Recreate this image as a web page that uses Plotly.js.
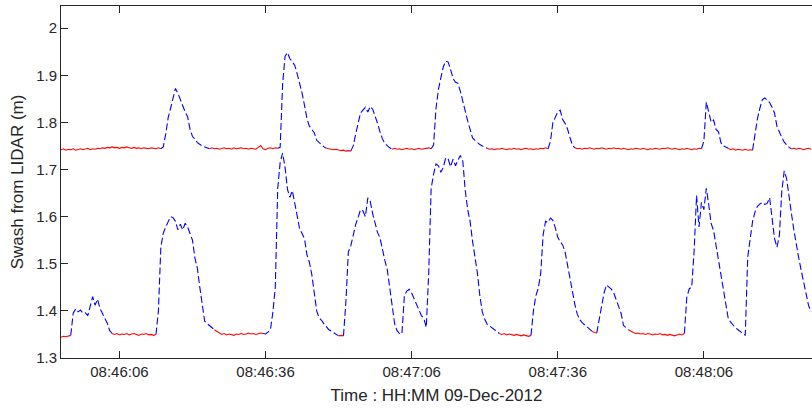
<!DOCTYPE html>
<html>
<head>
<meta charset="utf-8">
<script src="https://cdn.plot.ly/plotly-3.0.1.min.js"></script>
<style>html,body{margin:0;padding:0;background:#fff;}#chart{width:812px;height:409px;}</style>
</head>
<body>
<div id="chart"></div>
<script>
// Sampling clock of the record: first sample and step (seconds)
const recordDate = '2012-12-09';
const firstSample = '08:45:54';
const sampleStepSec = 0.5;

// Upper LIDAR swash series (m), one value per sample
const upperSwash = [
1.742,1.744,1.741,1.743,1.742,1.744,1.741,1.743,1.744,1.742,
1.743,1.745,1.742,1.744,1.743,1.745,1.744,1.746,1.745,1.747,
1.746,1.748,1.746,1.747,1.745,1.747,1.746,1.748,1.746,1.745,
1.747,1.745,1.746,1.744,1.746,1.745,1.744,1.746,1.745,1.744,
1.746,1.744,1.748,1.775,1.810,1.830,1.853,1.872,1.862,1.848,
1.835,1.822,1.812,1.785,1.770,1.765,1.757,1.753,1.750,1.748,
1.746,1.744,1.746,1.744,1.745,1.743,1.745,1.746,1.744,1.745,
1.743,1.746,1.744,1.745,1.746,1.744,1.745,1.743,1.745,1.744,
1.743,1.747,1.751,1.744,1.742,1.745,1.746,1.744,1.746,1.745,
1.747,1.880,1.940,1.948,1.935,1.929,1.921,1.903,1.884,1.862,
1.836,1.808,1.792,1.786,1.778,1.762,1.757,1.751,1.748,1.745,
1.744,1.743,1.742,1.743,1.741,1.740,1.741,1.739,1.740,1.739,
1.750,1.775,1.800,1.820,1.826,1.832,1.822,1.834,1.828,1.815,
1.798,1.780,1.765,1.755,1.750,1.746,1.743,1.745,1.743,1.744,
1.742,1.744,1.745,1.743,1.744,1.742,1.744,1.745,1.743,1.744,
1.745,1.746,1.744,1.752,1.830,1.870,1.895,1.918,1.930,1.928,
1.912,1.893,1.885,1.883,1.866,1.845,1.819,1.803,1.785,1.767,
1.762,1.757,1.753,1.750,1.748,1.745,1.743,1.744,1.742,1.744,
1.743,1.745,1.744,1.742,1.744,1.743,1.745,1.743,1.744,1.742,
1.744,1.745,1.743,1.744,1.742,1.744,1.743,1.745,1.744,1.746,
1.744,1.760,1.800,1.811,1.822,1.826,1.806,1.798,1.786,1.768,
1.752,1.746,1.744,1.745,1.743,1.745,1.744,1.746,1.744,1.743,
1.745,1.744,1.746,1.745,1.743,1.745,1.744,1.746,1.744,1.745,
1.743,1.745,1.744,1.742,1.744,1.743,1.745,1.744,1.743,1.745,
1.744,1.742,1.744,1.743,1.745,1.744,1.743,1.745,1.744,1.746,
1.744,1.743,1.745,1.744,1.742,1.744,1.743,1.745,1.743,1.742,
1.744,1.743,1.745,1.744,1.760,1.843,1.822,1.800,1.805,1.785,
1.780,1.757,1.750,1.748,1.745,1.742,1.744,1.741,1.743,1.742,
1.741,1.743,1.741,1.742,1.741,1.775,1.808,1.830,1.848,1.852,
1.846,1.842,1.832,1.820,1.792,1.779,1.768,1.758,1.752,1.747,
1.744,1.745,1.743,1.745,1.744,1.742,1.744,1.745,1.743
];

// Lower LIDAR swash series (m), one value per sample
const lowerSwash = [
1.344,1.346,1.345,1.347,1.348,1.395,1.404,1.398,1.402,1.395,
1.396,1.390,1.410,1.430,1.412,1.425,1.405,1.395,1.385,1.374,
1.358,1.352,1.350,1.352,1.349,1.351,1.350,1.352,1.349,1.351,
1.352,1.350,1.348,1.351,1.350,1.352,1.349,1.350,1.348,1.350,
1.400,1.535,1.565,1.578,1.590,1.600,1.598,1.590,1.572,1.584,
1.572,1.586,1.578,1.562,1.550,1.512,1.490,1.450,1.410,1.378,
1.373,1.369,1.363,1.360,1.356,1.353,1.350,1.352,1.349,1.351,
1.350,1.348,1.351,1.350,1.352,1.350,1.351,1.353,1.351,1.352,
1.350,1.352,1.353,1.352,1.351,1.355,1.360,1.397,1.450,1.660,
1.715,1.735,1.705,1.658,1.641,1.655,1.628,1.609,1.574,1.564,
1.553,1.519,1.503,1.477,1.440,1.400,1.385,1.380,1.372,1.365,
1.360,1.357,1.354,1.350,1.347,1.348,1.347,1.420,1.525,1.538,
1.560,1.583,1.598,1.615,1.612,1.600,1.640,1.632,1.606,1.585,
1.566,1.555,1.528,1.507,1.487,1.445,1.405,1.373,1.358,1.352,
1.351,1.432,1.442,1.446,1.438,1.426,1.415,1.400,1.390,1.384,
1.365,1.480,1.660,1.690,1.712,1.708,1.694,1.705,1.725,1.722,
1.706,1.722,1.708,1.720,1.730,1.718,1.656,1.615,1.590,1.548,
1.517,1.480,1.432,1.398,1.382,1.372,1.368,1.363,1.360,1.357,
1.352,1.350,1.352,1.349,1.351,1.350,1.348,1.350,1.349,1.347,
1.349,1.348,1.346,1.348,1.400,1.432,1.448,1.480,1.562,1.590,
1.588,1.597,1.592,1.576,1.556,1.547,1.540,1.525,1.496,1.472,
1.440,1.414,1.393,1.382,1.375,1.370,1.365,1.361,1.357,1.354,
1.353,1.380,1.415,1.438,1.455,1.450,1.446,1.438,1.425,1.408,
1.395,1.369,1.364,1.360,1.356,1.354,1.352,1.353,1.351,1.352,
1.350,1.352,1.351,1.349,1.351,1.350,1.352,1.349,1.350,1.348,
1.350,1.349,1.347,1.349,1.351,1.349,1.352,1.429,1.447,1.450,
1.528,1.645,1.578,1.630,1.615,1.660,1.625,1.585,1.570,1.538,
1.510,1.472,1.440,1.408,1.384,1.376,1.369,1.364,1.360,1.356,
1.351,1.348,1.514,1.556,1.590,1.610,1.622,1.627,1.630,1.626,
1.628,1.640,1.597,1.554,1.535,1.560,1.654,1.697,1.680,1.638,
1.605,1.570,1.538,1.511,1.485,1.459,1.435,1.411,1.398
];

// Still-water (no swash) intervals, drawn in red
const upperCalm = [
['08:45:54.0','08:46:14.5'],['08:46:24.5','08:46:38.5'],['08:46:48.5','08:46:53.5'],
['08:47:02.0','08:47:10.0'],['08:47:21.5','08:47:34.0'],['08:47:39.5','08:48:05.5'],
['08:48:11.0','08:48:16.0'],['08:48:24.0','08:48:28.0']
];
const lowerCalm = [
['08:45:54.0','08:45:56.0'],['08:46:04.5','08:46:13.5'],['08:46:25.5','08:46:35.5'],
['08:46:51.0','08:46:52.0'],['08:47:24.0','08:47:30.5'],['08:47:43.0','08:47:44.0'],
['08:47:50.5','08:48:02.0']
];

// Axes
const xRange = ['08:45:54.0', '08:48:28.2'];
const xTickTimes = ['08:46:06','08:46:36','08:47:06','08:47:36','08:48:06'];
const yTicks = [1.3,1.4,1.5,1.6,1.7,1.8,1.9,2.0];
const yTickLabels = ['1.3','1.4','1.5','1.6','1.7','1.8','1.9','2'];
const xTitle = 'Time : HH:MM 09-Dec-2012';
const yTitle = 'Swash from LIDAR (m)';

function secOfDay(s){const p=s.split(':');return (+p[0])*3600+(+p[1])*60+parseFloat(p[2]);}
const t0 = secOfDay(firstSample);
function inAny(sec, ints){return ints.some(iv=>sec>=secOfDay(iv[0])-1e-6 && sec<=secOfDay(iv[1])+1e-6);}
function split(vals, ints){
  const n=vals.length, red=[];
  for(let i=0;i<n;i++) red.push(inAny(t0+i*sampleStepSec, ints));
  const r=[], b=[];
  for(let i=0;i<n;i++){
    r.push(red[i]?vals[i]:null);
    const interior = red[i] && (i===0||red[i-1]) && (i===n-1||red[i+1]);
    b.push(interior?null:vals[i]);
  }
  return {red:r, blue:b};
}
const up = split(upperSwash, upperCalm);
const lo = split(lowerSwash, lowerCalm);
const x0 = recordDate+' '+firstSample;
const dx = sampleStepSec*1000;
const blueLine = {color:'#0000ff', width:1.1, dash:'7px,3px'};
const redLine = {color:'#ff0000', width:1.1};
const traces = [
  {type:'scatter', mode:'lines', x0:x0, dx:dx, y:up.blue, line:blueLine, hoverinfo:'skip'},
  {type:'scatter', mode:'lines', x0:x0, dx:dx, y:lo.blue, line:blueLine, hoverinfo:'skip'},
  {type:'scatter', mode:'lines', x0:x0, dx:dx, y:up.red, line:redLine, hoverinfo:'skip'},
  {type:'scatter', mode:'lines', x0:x0, dx:dx, y:lo.red, line:redLine, hoverinfo:'skip'}
];
const axCol = '#262626';
const layout = {
  width:812, height:409,
  margin:{l:61, r:0, t:6, b:51, pad:0},
  paper_bgcolor:'#ffffff', plot_bgcolor:'#ffffff',
  showlegend:false,
  font:{family:'"Liberation Sans", Arial, sans-serif', size:15, color:axCol},
  xaxis:{
    type:'date',
    range:xRange.map(t=>recordDate+' '+t),
    tickmode:'array',
    tickvals:xTickTimes.map(t=>recordDate+' '+t),
    ticktext:xTickTimes,
    ticks:'inside', ticklen:7, tickwidth:1, tickcolor:axCol,
    showline:true, linecolor:axCol, linewidth:1, mirror:'ticks',
    showgrid:false, zeroline:false,
    title:{text:xTitle, font:{size:17}, standoff:10}
  },
  yaxis:{
    range:[1.3, 2.047],
    tickmode:'array', tickvals:yTicks, ticktext:yTickLabels,
    ticks:'inside', ticklen:7, tickwidth:1, tickcolor:axCol,
    showline:true, linecolor:axCol, linewidth:1, mirror:false,
    showgrid:false, zeroline:false,
    title:{text:yTitle, font:{size:17}, standoff:8}
  }
};
Plotly.newPlot('chart', traces, layout, {staticPlot:true, displayModeBar:false});
</script>
</body>
</html>
